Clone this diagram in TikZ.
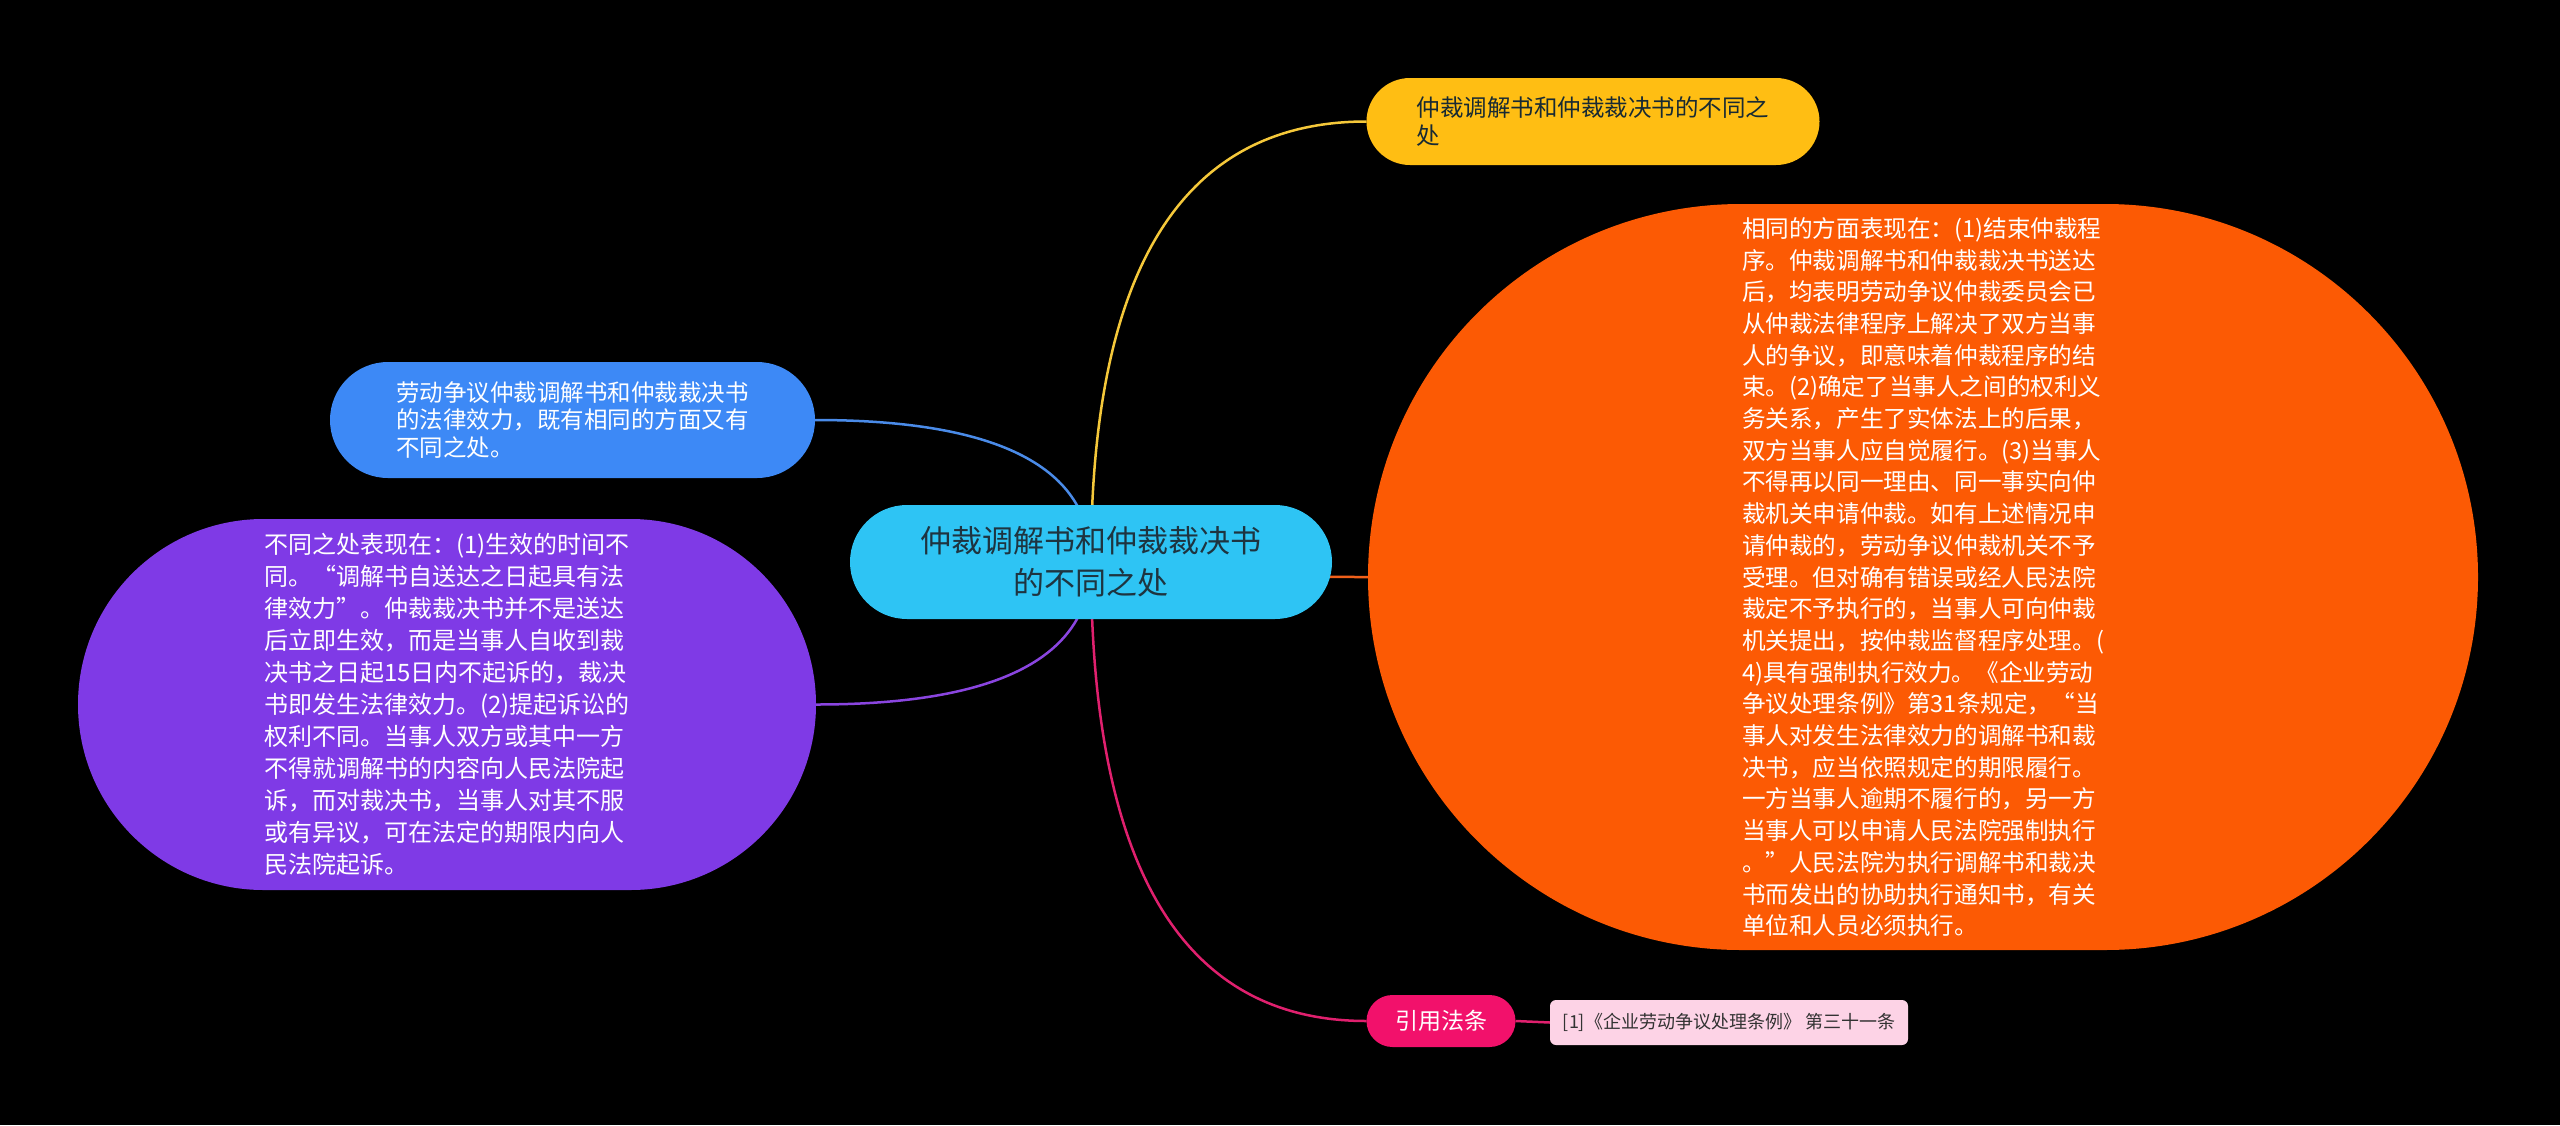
\documentclass[tikz,border=0pt]{standalone}
\usepackage{fontspec}
\setmainfont{Noto Sans CJK SC}
\usetikzlibrary{calc}
\definecolor{cyanC}{HTML}{2EC4F4}
\definecolor{darkT}{HTML}{1E3440}
\definecolor{ylwC}{HTML}{FFBE13}
\definecolor{ylwL}{HTML}{F5C83A}
\definecolor{bluC}{HTML}{3D89F6}
\definecolor{bluL}{HTML}{4A8BE8}
\definecolor{purC}{HTML}{7F3AE6}
\definecolor{purL}{HTML}{8A45E0}
\definecolor{orgC}{HTML}{FC5A04}
\definecolor{orgL}{HTML}{F0601A}
\definecolor{pnkC}{HTML}{F2116B}
\definecolor{pnkL}{HTML}{E0206E}
\definecolor{citC}{HTML}{FDD3E6}
\definecolor{citT}{HTML}{333333}
\pgfdeclarelayer{back}
\pgfdeclarelayer{lines}
\pgfsetlayers{back,lines,main}
\begin{document}
\begin{tikzpicture}[x=1pt,y=-1pt,
  box/.style={inner sep=0pt, outer sep=0pt},
  mainbox/.style={box, fill=cyanC, text=darkT, rounded corners=57pt, minimum width=482pt, minimum height=114pt, align=center, font=\fontsize{31}{42}\selectfont},
  ylwbox/.style={box, fill=ylwC, text=darkT!80!black, rounded corners=43.5pt, minimum width=453pt, minimum height=87pt, align=left, font=\fontsize{23.5}{27.5}\selectfont},
  blubox/.style={box, fill=bluC, text=white, rounded corners=58pt, minimum width=485pt, minimum height=116pt, align=left, font=\fontsize{23.5}{27.5}\selectfont},
  purbox/.style={box, fill=purC, text=white, rounded corners=185.5pt, minimum width=738pt, minimum height=371pt, align=left, font=\fontsize{24}{32}\selectfont},
  orgbox/.style={box, fill=orgC, text=white, rounded corners=373pt, minimum width=1110pt, minimum height=746pt, align=left, font=\fontsize{23.6}{31.7}\selectfont},
  pnkbox/.style={box, fill=pnkC, text=white, rounded corners=26pt, minimum width=149pt, minimum height=52pt, align=center, font=\fontsize{23}{27}\selectfont},
  citbox/.style={box, fill=citC, text=citT, rounded corners=6pt, minimum width=358pt, minimum height=45pt, align=center, font=\fontsize{18}{22}\selectfont},
  link/.style={line width=2.5pt}
]
\begin{pgfonlayer}{back}
\fill[black] (0,0) rectangle (2560,1125);
\end{pgfonlayer}
\useasboundingbox (0,0) rectangle (2560,1125);

\node[mainbox] (c) at (1091,562) {仲裁调解书和仲裁裁决书\\的不同之处};

\node[ylwbox] (y) at (1593,121.5) {仲裁调解书和仲裁裁决书的不同之\\处};

\node[blubox] (b) at (572.5,420) {劳动争议仲裁调解书和仲裁裁决书\\的法律效力，既有相同的方面又有\\不同之处。};

\node[purbox] (p) at (447,704.5) {不同之处表现在：(1)生效的时间不\\同。“调解书自送达之日起具有法\\律效力”。仲裁裁决书并不是送达\\后立即生效，而是当事人自收到裁\\决书之日起15日内不起诉的，裁决\\书即发生法律效力。(2)提起诉讼的\\权利不同。当事人双方或其中一方\\不得就调解书的内容向人民法院起\\诉，而对裁决书，当事人对其不服\\或有异议，可在法定的期限内向人\\民法院起诉。};

\node[orgbox] (o) at (1923,577) {相同的方面表现在：(1)结束仲裁程\\序。仲裁调解书和仲裁裁决书送达\\后，均表明劳动争议仲裁委员会已\\从仲裁法律程序上解决了双方当事\\人的争议，即意味着仲裁程序的结\\束。(2)确定了当事人之间的权利义\\务关系，产生了实体法上的后果，\\双方当事人应自觉履行。(3)当事人\\不得再以同一理由、同一事实向仲\\裁机关申请仲裁。如有上述情况申\\请仲裁的，劳动争议仲裁机关不予\\受理。但对确有错误或经人民法院\\裁定不予执行的，当事人可向仲裁\\机关提出，按仲裁监督程序处理。(\\4)具有强制执行效力。《企业劳动\\争议处理条例》第31条规定，“当\\事人对发生法律效力的调解书和裁\\决书，应当依照规定的期限履行。\\一方当事人逾期不履行的，另一方\\当事人可以申请人民法院强制执行\\。”人民法院为执行调解书和裁决\\书而发出的协助执行通知书，有关\\单位和人员必须执行。};

\node[pnkbox] (k) at (1441,1021) {引用法条};

\node[citbox] (r) at (1729,1022.5) {[1]《企业劳动争议处理条例》 第三十一条};

\begin{pgfonlayer}{lines}
\draw[link, ylwL] (c.center) .. controls ($(c.center)!0.6667!(c.center |- y.west)$) and ($(y.west)!0.6667!(c.center |- y.west)$) .. (y.west);
\draw[link, bluL] (c.center) .. controls ($(c.center)!0.6667!(c.center |- b.east)$) and ($(b.east)!0.6667!(c.center |- b.east)$) .. (b.east);
\draw[link, purL] (c.center) .. controls ($(c.center)!0.6667!(c.center |- p.east)$) and ($(p.east)!0.6667!(c.center |- p.east)$) .. (p.east);
\draw[link, orgL] (c.center) .. controls ($(c.center)!0.6667!(c.center |- o.west)$) and ($(o.west)!0.6667!(c.center |- o.west)$) .. (o.west);
\draw[link, pnkL] (c.center) .. controls ($(c.center)!0.6667!(c.center |- k.west)$) and ($(k.west)!0.6667!(c.center |- k.west)$) .. (k.west);
\draw[link, pnkL] (k.east) -- (r.west);
\end{pgfonlayer}
\end{tikzpicture}
\end{document}
